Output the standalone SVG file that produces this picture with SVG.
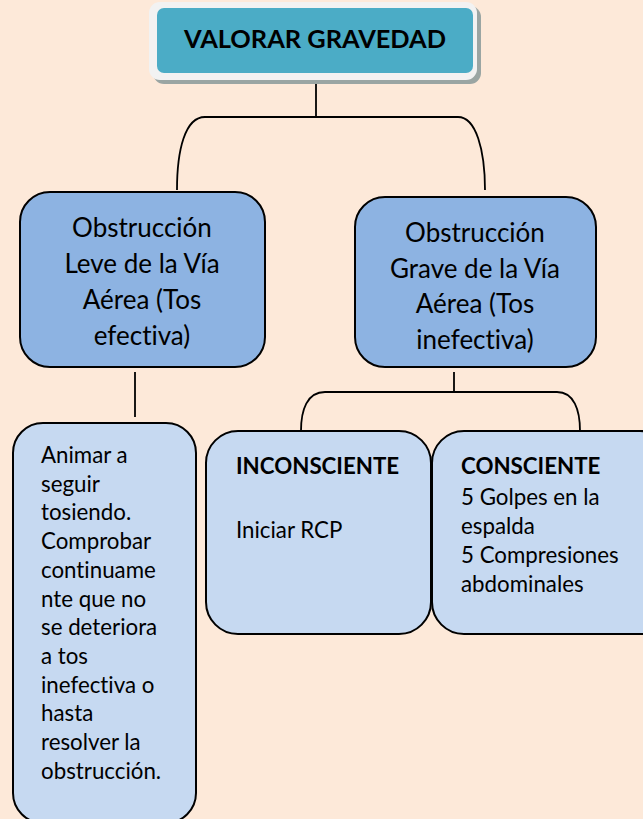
<svg xmlns="http://www.w3.org/2000/svg" width="643" height="819" viewBox="0 0 643 819">
<style>
.t{font-family:Lato,"Open Sans","Liberation Sans",sans-serif;fill:#000;font-variant-ligatures:none}
.mid{font-size:26px;text-anchor:middle}
.sm{font-size:22.3px}
.b{font-weight:bold}
.c{fill:none;stroke:#000;stroke-width:1.8}
.box{stroke:#000;stroke-width:2}
</style>
<rect width="643" height="819" fill="#FDE9D9"/>
<g id="connectors">
<path class="c" d="M316 82 V117"/>
<path class="c" d="M177 190 C177 150 185 117 205 117 H458 C476 117 485 150 485 190"/>
<path class="c" d="M135 372 V417"/>
<path class="c" d="M454 372 V392"/>
<path class="c" d="M301 431 C301 410 307 392 325 392 H557 C574 392 580 410 580 431"/>
</g>
<g id="valorar">
<rect x="153" y="6" width="328" height="78" rx="11" fill="#9AA5A3"/>
<rect x="149" y="2" width="328" height="78" rx="11" fill="#F2F2F2"/>
<rect x="157" y="8" width="316" height="65" rx="7" fill="#4BACC6"/>
<text class="t b" x="315" y="48" font-size="24" text-anchor="middle" textLength="262" lengthAdjust="spacingAndGlyphs">VALORAR GRAVEDAD</text>
</g>
<g id="leve">
<rect class="box" x="20" y="192" width="245" height="175" rx="30" fill="#8DB3E2"/>
<text class="t mid" x="142"><tspan x="142" y="237">Obstrucción</tspan><tspan x="142" y="273">Leve de la Vía</tspan><tspan x="142" y="309">Aérea (Tos</tspan><tspan x="142" y="345">efectiva)</tspan></text>
</g>
<g id="grave">
<rect class="box" x="355" y="197" width="241" height="170" rx="30" fill="#8DB3E2"/>
<text class="t mid" x="475"><tspan x="475" y="242">Obstrucción</tspan><tspan x="475" y="278">Grave de la Vía</tspan><tspan x="475" y="313">Aérea (Tos</tspan><tspan x="475" y="349">inefectiva)</tspan></text>
</g>
<g id="animar">
<rect class="box" x="13" y="423" width="183" height="400" rx="30" fill="#C6D9F1"/>
<text class="t sm" x="41"><tspan x="41" y="463">Animar a</tspan><tspan x="41" y="491.7">seguir</tspan><tspan x="41" y="520.4">tosiendo.</tspan><tspan x="41" y="549.1">Comprobar</tspan><tspan x="41" y="577.8">continuame</tspan><tspan x="41" y="606.5">nte que no</tspan><tspan x="41" y="635.2">se deteriora</tspan><tspan x="41" y="663.9">a tos</tspan><tspan x="41" y="692.6">inefectiva o</tspan><tspan x="41" y="721.3">hasta</tspan><tspan x="41" y="750">resolver la</tspan><tspan x="41" y="778.7">obstrucción.</tspan></text>
</g>
<g id="inconsciente">
<rect class="box" x="206" y="431" width="225" height="203" rx="32" fill="#C6D9F1"/>
<text class="t sm b" x="236" y="474">INCONSCIENTE</text>
<text class="t sm" x="236" y="538">Iniciar RCP</text>
</g>
<g id="consciente">
<rect class="box" x="432" y="431" width="240" height="203" rx="32" fill="#C6D9F1"/>
<text class="t sm b" x="461" y="474">CONSCIENTE</text>
<text class="t sm" x="461"><tspan x="461" y="505">5 Golpes en la</tspan><tspan x="461" y="534">espalda</tspan><tspan x="461" y="563">5 Compresiones</tspan><tspan x="461" y="592">abdominales</tspan></text>
</g>
</svg>
